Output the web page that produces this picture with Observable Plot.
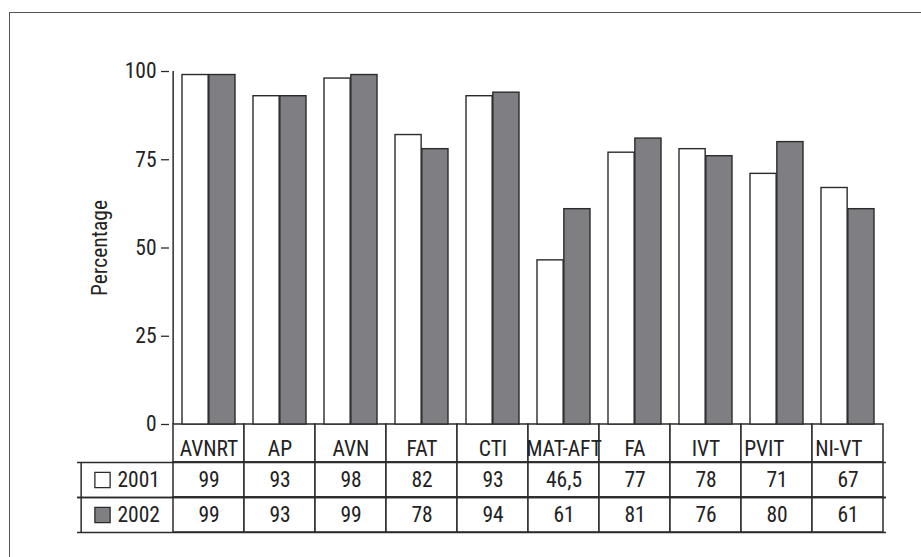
<!DOCTYPE html>
<html><head><meta charset="utf-8">
<script src="https://cdn.jsdelivr.net/npm/d3@7"></script>
<script src="https://cdn.jsdelivr.net/npm/@observablehq/plot@0.6"></script>
<style>
body{margin:0;background:#fff;}
#wrap{position:relative;width:921px;height:557px;overflow:hidden;}
#border{position:absolute;left:9px;top:12px;width:940px;height:580px;border:1.5px solid #555;box-sizing:border-box;}
#chart{position:absolute;left:0;top:0;}
</style>
</head><body>
<div id="wrap"><div id="border"></div><div id="chart"></div></div>
<script>
const categories = ["AVNRT","AP","AVN","FAT","CTI","MAT-AFT","FA","IVT","PVIT","NI-VT"];
const years = ["2001","2002"];
const values2001 = [99,93,98,82,93,46.5,77,78,71,67];
const values2002 = [99,93,99,78,94,61,81,76,80,61];
const yTicks = [0,25,50,75,100];
const yLabel = "Percentage";
const leftAlignedLabels = ["PVIT","NI-VT"];

const W = 921, H = 557, mt = 71, mb = 133, ml = 169, mr = 35;
const pxPerUnit = (H - mt - mb) / 100;
const below = px => -px / pxPerUnit;           // pixels below the baseline, in y units
const bw = (W - ml - mr) / categories.length;    // band width
const pad = 9, barW = (bw - 2 * pad) / 2;
const FONT = "'Liberation Sans Narrow','Roboto Condensed','Arial Narrow','DejaVu Sans Condensed',sans-serif";
const ink = "#2b2b2b", grayFill = "#7f7f83";
const fmt = v => String(v).replace(".", ",");

const rows = [
  {key: years[0], vals: values2001, fill: "white", top: 38, bottom: 73},
  {key: years[1], vals: values2002, fill: grayFill, top: 73, bottom: 108}
];
const cellData = rows.flatMap(r => categories.map((c, i) => ({cat: c, row: r, v: r.vals[i]})));

const marks = [
  // header cells
  Plot.barY(categories, {x: d => d, y1: 0, y2: below(38), fill: "white", stroke: ink, strokeWidth: 1.5}),
  // value cells
  Plot.barY(cellData, {x: "cat", y1: d => below(d.row.top), y2: d => below(d.row.bottom), fill: "white", stroke: ink, strokeWidth: 1.5}),
  // legend column rules
  Plot.ruleY(rows.flatMap(r => [r.top, r.bottom]), {y: d => below(d), insetLeft: -92, insetRight: 0, stroke: ink, strokeWidth: 1.5}),
  Plot.ruleX([categories[0]], {x: d => d, y1: below(38), y2: below(108), dx: -bw / 2 - 92, stroke: ink, strokeWidth: 1.5}),
  // bars
  Plot.barY(categories, {x: d => d, y: (d, i) => values2001[i], fill: "white", stroke: ink, strokeWidth: 1.4, insetLeft: pad, insetRight: pad + barW}),
  Plot.barY(categories, {x: d => d, y: (d, i) => values2002[i], fill: grayFill, stroke: ink, strokeWidth: 1.4, insetLeft: pad + barW, insetRight: pad}),
  // y axis line
  Plot.ruleX([categories[0]], {x: d => d, y1: 0, y2: 100, dx: -bw / 2, stroke: ink, strokeWidth: 1.5}),
  Plot.axisY({ticks: yTicks, tickSize: 8, tickPadding: 5, label: null, stroke: ink, strokeWidth: 1.3, fill: "#222"}),
  Plot.text([yLabel], {frameAnchor: "left", dx: -69, rotate: -90, textAnchor: "middle", text: d => d, fill: "#222"}),
  // header labels
  Plot.text(categories.filter(c => !leftAlignedLabels.includes(c)), {x: d => d, y: below(25), text: d => d, fill: "#222"}),
  Plot.text(categories.filter(c => leftAlignedLabels.includes(c)), {x: d => d, y: below(25), text: d => d, textAnchor: "start", dx: -bw / 2 + 3, fill: "#222"}),
  // values
  Plot.text(cellData, {x: "cat", y: d => below((d.row.top + d.row.bottom) / 2), text: d => fmt(d.v), fill: "#222"}),
  // legend
  Plot.dot(rows, {frameAnchor: "left", y: d => below((d.top + d.bottom) / 2), dx: -67, symbol: "square", r: 8.6, fill: d => d.fill, stroke: ink, strokeWidth: 1.3}),
  Plot.text(rows, {frameAnchor: "left", y: d => below((d.top + d.bottom) / 2), dx: -52, textAnchor: "start", text: d => d.key, fill: "#222"})
];

const chart = Plot.plot({
  width: W, height: H,
  marginTop: mt, marginBottom: mb, marginLeft: ml, marginRight: mr,
  x: {type: "band", domain: categories, padding: 0, axis: null},
  y: {domain: [0, 100]},
  style: {fontFamily: FONT, fontSize: "21.5px", background: "transparent", color: "#222", overflow: "visible"},
  marks
});
document.getElementById("chart").appendChild(chart);
</script>
</body></html>
